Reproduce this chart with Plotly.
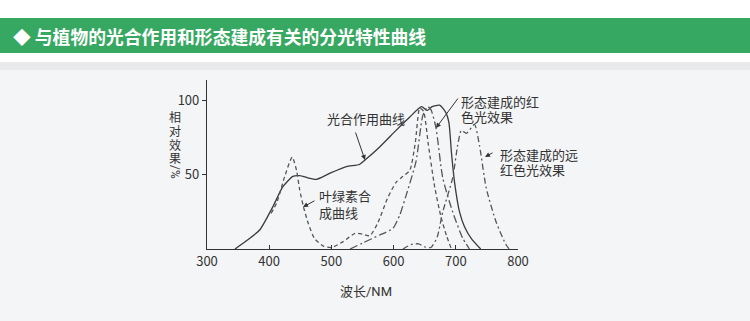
import plotly.graph_objects as go

# ---- data ----
photo_nm = [345, 365, 385, 406, 422, 438, 449, 462, 476, 497, 524, 545, 554, 578, 604, 626, 645, 654, 662, 674, 684, 689, 693, 698, 706, 714, 725, 740]
photo_v = [0, 6, 13, 28.6, 42, 49, 49.5, 48, 47, 51, 55.6, 57, 60, 69, 80, 89, 96, 93.5, 96, 97, 92, 85, 65, 45, 25, 15, 7, 0]

chl_nm = [403, 412, 425, 437, 444, 449, 455, 463, 473, 487, 500, 519, 538, 550, 562, 575, 590, 604, 615, 626, 635, 642, 648, 656, 666, 676, 685, 693]
chl_v = [24, 31, 49, 62, 53, 40, 28.6, 17, 7, 2, 1, 5, 10.6, 10, 9, 18, 34, 45, 49, 53, 72, 95, 93, 70, 42, 22, 9, 0]

red_nm = [530, 550, 578, 599, 610, 620, 636, 647, 655, 660, 668, 679, 695, 711, 722]
red_v = [0, 4, 9.5, 14, 23, 36, 59, 90, 96, 94, 82, 48, 25, 7.4, 0]

far_nm = [615, 628, 640, 650, 660, 670, 679, 695, 703, 709, 717, 730, 738, 749, 765, 781, 786]
far_v = [0, 3, 3.5, 1.5, 1, 8, 25, 48, 70, 80, 78, 84, 70, 41, 18, 2.7, 0]

x_ticks = [300, 400, 500, 600, 700, 800]
y_ticks = [50, 100]

title_text = "◆ 与植物的光合作用和形态建成有关的分光特性曲线"
y_title_chars = ["相", "对", "效", "果"]
y_title_unit = "/%"
label_photo = ["光合作用曲线"]
label_chl = ["叶绿素合", "成曲线"]
label_red = ["形态建成的红", "色光效果"]
label_far = ["形态建成的远", "红色光效果"]

# ---- layout geometry ----
W, H = 750, 321
L, R_px, T, B_px = 207, 518, 80, 249
XMIN, XMAX, YMIN, YMAX = 300, 800, 0, 114

def px2x(px):
    return XMIN + (px - L) / (R_px - L) * (XMAX - XMIN)

def py2y(py):
    return YMIN + (B_px - py) / (B_px - T) * (YMAX - YMIN)

def pxp(px):
    return (px - L) / (R_px - L)

def pyp(py):
    return (B_px - py) / (B_px - T)

FONT = "Noto Sans CJK SC"
TFONT = "Roboto, Noto Sans CJK SC"
INK = "#333333"

fig = go.Figure()
line_kw = dict(shape="spline", smoothing=0.6)
fig.add_trace(go.Scatter(x=photo_nm, y=photo_v, mode="lines",
                         line=dict(color="#3a3a3a", width=1.3, **line_kw)))
fig.add_trace(go.Scatter(x=chl_nm, y=chl_v, mode="lines",
                         line=dict(color="#555555", width=1.3, dash="4px,3px", **line_kw)))
fig.add_trace(go.Scatter(x=red_nm, y=red_v, mode="lines",
                         line=dict(color="#555555", width=1.3, dash="8px,3px,2px,3px", **line_kw)))
fig.add_trace(go.Scatter(x=far_nm, y=far_v, mode="lines",
                         line=dict(color="#555555", width=1.3, dash="6px,3px,2px,3px", **line_kw)))

shapes = [
    dict(type="rect", xref="paper", yref="paper", x0=pxp(0), x1=pxp(W), y0=pyp(H), y1=pyp(62),
         fillcolor="#f4f5f7", line=dict(width=0), layer="below"),
    dict(type="rect", xref="paper", yref="paper", x0=pxp(0), x1=pxp(W), y0=pyp(70), y1=pyp(62),
         fillcolor="#e9eaec", line=dict(width=0), layer="below"),
    dict(type="rect", xref="paper", yref="paper", x0=pxp(0), x1=pxp(W), y0=pyp(53), y1=pyp(18),
         fillcolor="#37a862", line=dict(width=0), layer="below"),
]

ann = []
ann.append(dict(text=title_text, xref="paper", yref="paper", x=pxp(11), y=pyp(36),
                xanchor="left", yanchor="middle", showarrow=False,
                font=dict(family=FONT, size=17.8, color="white", weight="bold")))
tf = dict(family=TFONT, size=13, color=INK)

def add_label(lines, left_px, top_py, step, anchor="left"):
    for i, s in enumerate(lines):
        ann.append(dict(text=s, x=px2x(left_px), y=py2y(top_py + step * i), showarrow=False,
                        font=tf, xanchor=anchor, yanchor="middle", borderpad=0))

add_label(label_photo, 366, 119, 0, anchor="center")
add_label(label_chl, 318, 196, 17)
add_label(label_red, 460, 102, 15.5)
add_label(label_far, 499, 155, 15.5)

arrow_kw = dict(text="", showarrow=True, arrowhead=2, arrowsize=1, arrowwidth=1, arrowcolor=INK,
                axref="pixel", ayref="pixel")
ann.append(dict(x=px2x(365), y=py2y(160), ax=-10, ay=-29, **arrow_kw))
ann.append(dict(x=px2x(303), y=py2y(207), ax=13, ay=-7, **arrow_kw))
ann.append(dict(x=px2x(436), y=py2y(128), ax=23, ay=-31, **arrow_kw))
ann.append(dict(x=px2x(485), y=py2y(157), ax=9, ay=-5, **arrow_kw))
yf = dict(family=TFONT, size=12, color=INK)
for i, ch in enumerate(y_title_chars):
    ann.append(dict(text=ch, xref="paper", yref="paper", x=pxp(175), y=pyp(118 + 13.5 * i),
                    showarrow=False, font=yf, xanchor="center", yanchor="middle",
                    borderpad=0))
ann.append(dict(text=y_title_unit, xref="paper", yref="paper", x=pxp(175), y=pyp(172), textangle=90,
                showarrow=False, font=yf, xanchor="center", yanchor="middle", borderpad=0))
ann.append(dict(text="波长/NM", xref="paper", yref="paper", x=pxp(366), y=pyp(291),
                showarrow=False, font=tf, xanchor="center", yanchor="middle"))

fig.update_layout(
    width=W, height=H,
    margin=dict(l=L, r=W - R_px, t=T, b=H - B_px, pad=0),
    paper_bgcolor="white", plot_bgcolor="rgba(0,0,0,0)",
    showlegend=False, shapes=shapes, annotations=ann,
    font=dict(family=FONT, size=13, color=INK),
)
fig.update_xaxes(range=[XMIN, XMAX], tickvals=x_ticks, ticks="inside", ticklen=4, tickcolor=INK,
                 showline=True, linecolor=INK, linewidth=1.2, showgrid=False, zeroline=False,
                 tickfont=dict(family=FONT, size=13, color=INK), fixedrange=True)
fig.update_yaxes(range=[YMIN, YMAX], tickvals=y_ticks, ticks="outside", ticklen=4, tickcolor=INK,
                 showline=True, linecolor=INK, linewidth=1.2, showgrid=False, zeroline=False,
                 tickfont=dict(family=FONT, size=13, color=INK), fixedrange=True)

fig.write_html("out.html")
